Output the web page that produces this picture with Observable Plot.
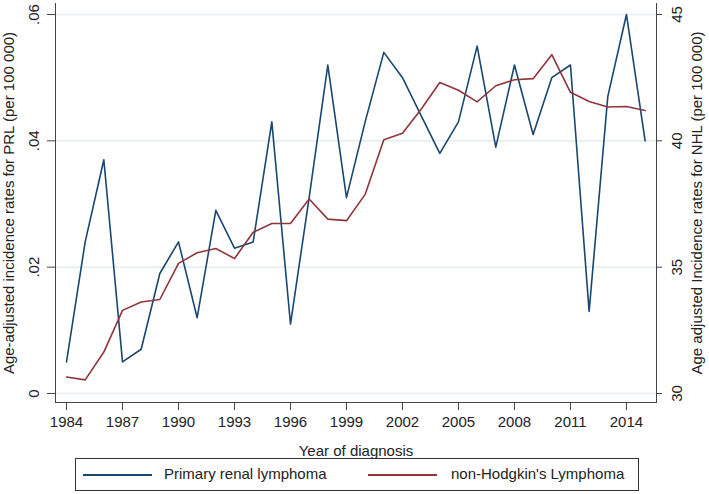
<!DOCTYPE html>
<html><head><meta charset="utf-8">
<script src="https://cdn.jsdelivr.net/npm/d3@7"></script>
<script src="https://cdn.jsdelivr.net/npm/@observablehq/plot@0.6"></script>
<style>
body{margin:0;background:#fff;font-family:"Liberation Sans",Arial,sans-serif;}
#chart{position:absolute;left:0;top:0;}
#legend{position:absolute;left:75px;top:458px;width:564px;height:33px;border:1px solid #333;box-sizing:border-box;font-size:15px;color:#222;background:#fff}
#legend .sw{position:absolute;top:15px;height:2px}
#legend .tx{position:absolute;top:6px;white-space:nowrap;line-height:18px}
</style></head><body>
<div id="chart"></div>
<div id="legend"></div>
<script>
const years = [1984,1985,1986,1987,1988,1989,1990,1991,1992,1993,1994,1995,1996,1997,1998,1999,2000,2001,2002,2003,2004,2005,2006,2007,2008,2009,2010,2011,2012,2013,2014,2015];
const prl = [0.005,0.024,0.037,0.005,0.007,0.019,0.024,0.012,0.029,0.023,0.024,0.043,0.011,0.031,0.052,0.031,0.043,0.054,0.050,0.044,0.038,0.043,0.055,0.039,0.052,0.041,0.050,0.052,0.013,0.047,0.060,0.040];
const nhl = [30.65,30.54,31.64,33.29,33.62,33.72,35.15,35.57,35.74,35.34,36.38,36.73,36.73,37.70,36.90,36.84,37.88,40.04,40.30,41.25,42.31,42.00,41.54,42.18,42.42,42.46,43.41,41.92,41.56,41.34,41.36,41.20];
const xTicks = [1984,1987,1990,1993,1996,1999,2002,2005,2008,2011,2014];
const leftTicks = [0,0.02,0.04,0.06];
const leftTickLabels = ["0",".02",".04",".06"];
const rightTickLabels = ["30","35","40","45"];
const seriesNames = ["Primary renal lymphoma","non-Hodgkin's Lymphoma"];
const colors = ["#1a476f","#90353b"];

// NHL is on the right axis (30..45), aligned with left 0..0.06
const toLeft = v => (v - 30) * 0.004;
const data = [
  ...years.map((y,i)=>({year:y, v:prl[i], s:seriesNames[0]})),
  ...years.map((y,i)=>({year:y, v:toLeft(nhl[i]), s:seriesNames[1]}))
];

const chart = Plot.plot({
  width:709, height:458,
  marginLeft:55, marginRight:53, marginTop:3, marginBottom:56,
  style:{fontFamily:"'Liberation Sans', Arial, sans-serif", fontSize:"15px", color:"#222", background:"#fff", overflow:"visible"},
  x:{domain:[1983.41,2015.61]},
  y:{domain:[-0.001425,0.06174]},
  color:{domain:seriesNames, range:colors},
  marks:[
    Plot.gridY(leftTicks,{stroke:"#e6eff2", strokeOpacity:1, strokeWidth:1.6}),
    Plot.frame({anchor:"left", stroke:"#444"}),
    Plot.frame({anchor:"bottom", stroke:"#444"}),
    Plot.frame({anchor:"right", stroke:"#444"}),
    Plot.axisX({ticks:xTicks, tickFormat:d=>String(d), tickSize:8, tickPadding:6, stroke:"#444",
      label:"Year of diagnosis", labelAnchor:"center", labelArrow:"none", labelOffset:53}),
    Plot.axisY({anchor:"left", ticks:leftTicks, tickFormat:d=>leftTickLabels[leftTicks.indexOf(d)], tickRotate:-90, tickSize:8, tickPadding:9, stroke:"#444",
      label:"Age-adjusted incidence rates for PRL (per 100 000)", labelAnchor:"center", labelArrow:"none", labelOffset:52}),
    Plot.axisY({anchor:"right", ticks:leftTicks, tickFormat:()=>"", tickSize:5, stroke:"#444",
      label:"Age adjusted Incidence rates for NHL (per 100 000)", labelAnchor:"center", labelArrow:"none", labelOffset:45}),
    Plot.text(leftTicks, {y:d=>d, text:d=>rightTickLabels[leftTicks.indexOf(d)], frameAnchor:"right", dx:21, rotate:-90,
      textAnchor:"middle", lineAnchor:"middle", fill:"#222", fontSize:15}),
    Plot.line(data,{x:"year", y:"v", stroke:"s", z:"s", strokeWidth:1.6})
  ]
});
document.getElementById("chart").appendChild(chart);

const lg = document.getElementById("legend");
const swLeft = [7, 292], txLeft = [88, 375];
seriesNames.forEach((n,i)=>{
  const sw = document.createElement("div");
  sw.className="sw"; sw.style.left=swLeft[i]+"px"; sw.style.width="69px"; sw.style.background=colors[i];
  const tx = document.createElement("div");
  tx.className="tx"; tx.style.left=txLeft[i]+"px"; tx.textContent=n;
  lg.appendChild(sw); lg.appendChild(tx);
});
</script>
</body></html>
